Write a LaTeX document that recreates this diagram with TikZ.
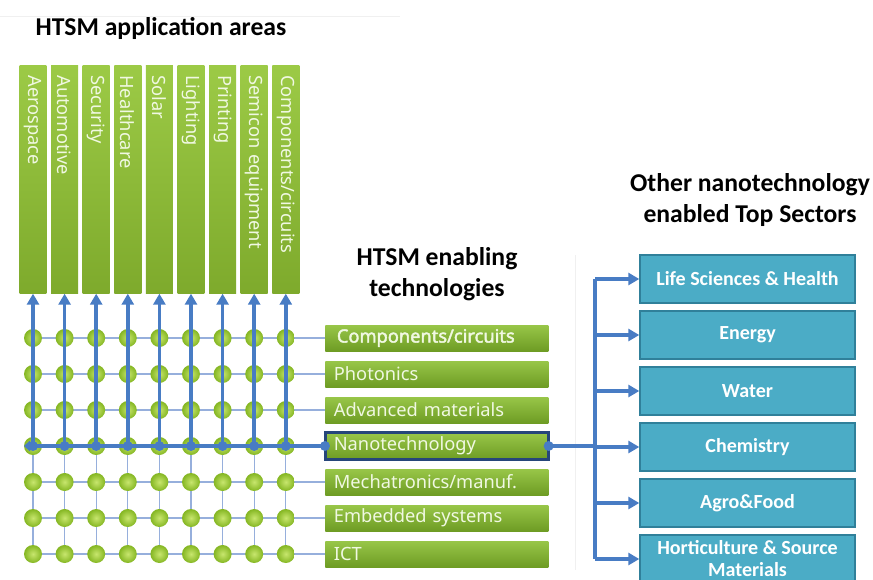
\documentclass[tikz,border=0pt]{standalone}
\usepackage{fontspec}
\setmainfont{Carlito}
\newfontfamily\techfont{Noto Sans}[BoldFont={Noto Sans}, BoldFeatures={FakeBold=2.2}]
\usetikzlibrary{arrows.meta}

\definecolor{flowblue}{RGB}{72,124,196}
\definecolor{gridblue}{RGB}{150,175,220}
\definecolor{colleft}{RGB}{126,170,44}
\definecolor{colright}{RGB}{156,202,70}
\definecolor{techtop}{RGB}{152,198,72}
\definecolor{techbot}{RGB}{110,156,36}
\definecolor{lighttext}{RGB}{240,248,226}
\definecolor{ballin}{RGB}{200,230,110}
\definecolor{ballout}{RGB}{132,182,34}
\definecolor{navyframe}{RGB}{38,70,122}
\definecolor{sectorfill}{RGB}{75,172,198}
\definecolor{sectorline}{RGB}{48,128,154}

\tikzset{
    heading/.style={font=\fontsize{14.6}{17.5}\selectfont\bfseries, align=center},
    areabox/.style={rotate=-90, anchor=west, text width=4.16cm, inner xsep=0.2cm, inner ysep=0pt,
        minimum height=0.54cm, top color=colright, bottom color=colleft, text=lighttext,
        font=\techfont\fontsize{10.4}{12}\selectfont, align=left},
    techbox/.style={anchor=west, text width=4.12cm, inner xsep=0.17cm, inner ysep=0pt,
        minimum height=0.52cm, top color=techtop, bottom color=techbot, text=lighttext,
        font=\techfont\fontsize{10.4}{12}\selectfont, align=left},
    sectorbox/.style={minimum width=4.3cm, minimum height=0.96cm, fill=sectorfill,
        draw=sectorline, line width=0.8pt, text=white, align=center,
        font=\fontsize{11.4}{12.5}\selectfont\bfseries},
    ball/.style={circle, inner sep=0pt, minimum size=0.36cm, inner color=ballin, outer color=ballout},
    gridline/.style={draw=gridblue, line width=0.6pt},
    flow/.style={draw=flowblue, line width=0.07cm},
    tip/.style={-{Triangle[length=0.22cm,width=0.24cm]}},
}

\begin{document}
\begin{tikzpicture}[x=0.02cm, y=-0.02cm]

    \useasboundingbox (0,0) rectangle (873,579);
    \fill[white] (0,0) rectangle (873,579);
    \clip (0,0) rectangle (873,579);

    % Faint panel edges
    \draw[gray!12] (0,16) -- (400,16);
    \draw[gray!12] (575,255) -- (575,570);

    % Headings
    \node[heading] (areahead) at (161,28) {HTSM application areas};
    \node[heading] (techhead) at (437,274) {HTSM enabling\\technologies};
    \node[heading] (sectorhead) at (750,200) {Other nanotechnology\\enabled Top Sectors};

    % Application areas (columns)
    \foreach \area [count=\i] in {Aerospace, Automotive, Security, Healthcare, Solar,
                                  Lighting, Printing, Semicon equipment, Components/circuits}
        \node[areabox] (area\i) at ({33+31.6*(\i-1)},65) {\area};

    % Enabling technologies
    \foreach \tech [count=\j] in {\textbf{\,Components/circuits}, Photonics, Advanced materials,
                                  Nanotechnology, Mechatronics/manuf., Embedded systems, ICT}
        \node[techbox] (tech\j) at (325,{338+36*(\j-1)}) {\tech};
    \draw[navyframe, line width=0.06cm] (tech4.south west) rectangle (tech4.north east);

    % Grid
    \foreach \i in {1,...,9}
        \foreach \j in {1,...,7}
            \coordinate (g-\i-\j) at ({33+31.6*(\i-1)},{338+36*(\j-1)});
    \foreach \j in {1,...,7} {
        \coordinate (rowstart\j) at (27,{338+36*(\j-1)});
        \draw[gridline] (rowstart\j) -- (tech\j.west);
    }
    \foreach \i in {1,...,9}
        \draw[gridline] (g-\i-1) -- (g-\i-7);
    \foreach \i in {1,...,9}
        \foreach \j in {1,...,7}
            \node[ball] (dot-\i-\j) at (g-\i-\j) {};

    % Nanotechnology row feeding the application areas
    \coordinate (nanostart) at (24,446);
    \draw[flow, {Diamond[length=0.22cm,width=0.2cm]}-] (nanostart) -- (tech4.west);
    \foreach \i in {1,...,9} {
        \draw[flow, tip] (g-\i-4) -- (area\i.east);
        \fill[flowblue] (g-\i-4) circle (0.1cm);
    }
    \fill[flowblue] (tech4.west) circle (0.1cm);
    \fill[flowblue] (tech4.east) circle (0.1cm);

    % Other top sectors
    \foreach \sector [count=\k] in {Life Sciences \& Health, Energy, Water, Chemistry,
                                    Agro\&Food, Horticulture \& Source\\Materials}
        \node[sectorbox] (sec\k) at (747.5,{279+56*(\k-1)}) {\sector};

    \coordinate (trunk) at (595,446);
    \draw[flow] (tech4.east) -- (trunk);
    \draw[flow] (trunk |- sec1.west) -- (trunk |- sec6.west);
    \foreach \k in {1,...,6}
        \draw[flow, tip] (trunk |- sec\k.west) -- (sec\k.west);

\end{tikzpicture}
\end{document}
